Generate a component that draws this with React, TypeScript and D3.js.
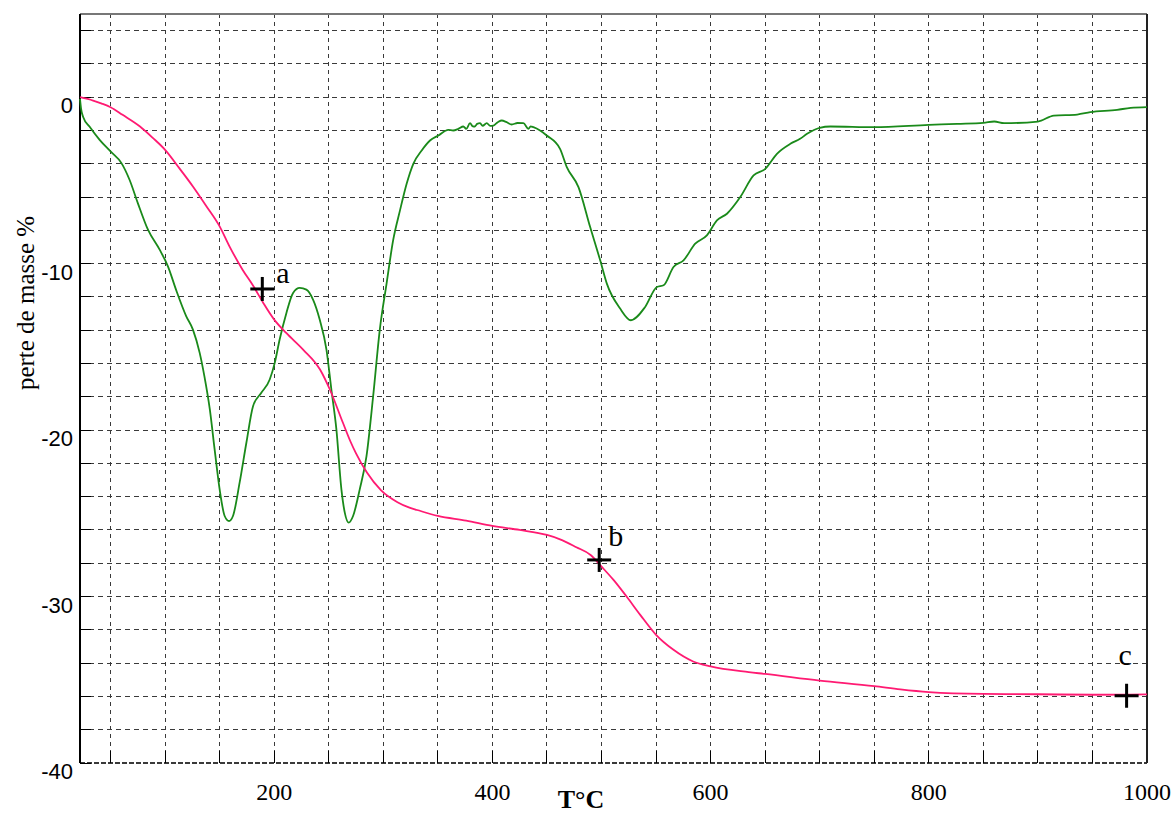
import React from "react";
import * as d3 from "d3";

// ---- data ----
const xDomain: [number, number] = [22, 1000];
const yDomain: [number, number] = [-40, 5];
const xLabelTicks = [200, 400, 600, 800, 1000];
const xGridTicks = [50, 100, 150, 200, 250, 300, 350, 400, 450, 500, 550, 600, 650, 700, 750, 800, 850, 900, 950];
const yLabelTicks = [0, -10, -20, -30, -40];
const yGridTicks = [4, 2, 0, -2, -4, -6, -8, -10, -12, -14, -16, -18, -20, -22, -24, -26, -28, -30, -32, -34, -36, -38];

// TG curve: mass loss %
const tgCurve: [number, number][] = [
  [22, 0], [34, -0.2], [42, -0.38], [50, -0.6], [61, -1.06], [77, -1.76], [89, -2.46], [100, -3.16],
  [113, -4.26], [125.5, -5.36], [138, -6.56], [150, -7.76], [159, -8.96], [171, -10.36],
  [181, -11.36], [190, -12.36], [200, -13.36], [211, -14.16], [226.5, -15.16], [242, -16.36],
  [251, -17.56], [263, -19.56], [270, -20.7], [275, -21.4], [285, -22.55], [298, -23.62],
  [313, -24.33], [324, -24.66], [331, -24.8], [350, -25.16], [376, -25.44], [400, -25.76],
  [425, -26.0], [450, -26.3], [462, -26.56], [477, -27.04], [490, -27.5], [500, -28.2],
  [511, -29.0], [523, -30.0], [535.5, -31.1], [550, -32.3], [566, -33.2], [584, -33.9],
  [600, -34.2], [635, -34.54], [650, -34.65], [700, -35.05], [750, -35.38], [774, -35.58],
  [800, -35.74], [850, -35.85], [900, -35.87], [950, -35.9], [1000, -35.88],
];

// DTG curve
const dtgCurve: [number, number][] = [
  [22, -0.1], [23, -0.7], [25, -1.2], [30.7, -1.76], [40, -2.56], [50, -3.26], [60, -3.96],
  [67.4, -4.96], [75, -6.36], [84.3, -7.96], [95, -9.16], [102.6, -10.16], [110, -11.56],
  [119.4, -13.16], [125.5, -13.96], [131.7, -15.36], [136, -16.76], [141, -18.76], [145.4, -21.16],
  [150, -23.56], [154.6, -25.16], [158.6, -25.46], [162.2, -25.16], [168.3, -23.16], [174.5, -20.76],
  [180.6, -18.56], [188.2, -17.76], [195.9, -16.96], [200.5, -15.96], [205, -14.56], [211.2, -12.96],
  [217.3, -11.76], [223.4, -11.46], [229.5, -11.56], [235.6, -12.16], [241.7, -13.36], [247.9, -15.16],
  [252.4, -17.56], [257, -19.96], [261.6, -23.56], [264.7, -24.96], [268.3, -25.56], [272.3, -25.16],
  [278.4, -23.56], [284.6, -21.56], [290.7, -17.96], [296.8, -13.96], [303, -11.2], [309, -8.6],
  [315.3, -6.8], [321.4, -5.2], [327.5, -4.0], [335.2, -3.2], [342.8, -2.6], [350.5, -2.3],
  [359.6, -1.96], [364, -2.0], [368.8, -1.9], [373.4, -1.76], [376, -1.9], [379.5, -1.56],
  [382, -1.75], [384, -1.76], [386, -1.6], [388.7, -1.56], [391, -1.72], [394.8, -1.56],
  [398, -1.72], [400.9, -1.7], [405, -1.5], [408.6, -1.4], [413, -1.5], [417.7, -1.64],
  [423, -1.55], [428.4, -1.56], [433, -1.9], [435, -1.75], [437.6, -1.8], [443.7, -2.0],
  [449.8, -2.3], [462, -3.1], [468.2, -4.2], [478.9, -5.4], [489.6, -7.8], [498.8, -9.8],
  [504.9, -11.2], [517.1, -12.7], [526.9, -13.4], [540, -12.6], [550.8, -11.4], [556.9, -11.3],
  [566, -10.2], [575.2, -9.8], [585.9, -8.8], [596.6, -8.3], [605.8, -7.4], [615, -7.0],
  [627.2, -6.0], [639.4, -4.7], [650.1, -4.3], [660.8, -3.4], [673.1, -2.8], [682, -2.5],
  [688.4, -2.2], [700, -1.84], [709.8, -1.76], [750, -1.8], [800, -1.66], [826, -1.6],
  [850, -1.54], [860, -1.46], [869, -1.56], [900, -1.46], [914.6, -1.1], [936, -1.04],
  [948, -0.9], [972.6, -0.76], [985, -0.64], [1000, -0.6],
];

const markerLabels = ["a", "b", "c"];
const markerTemps = [189.1, 497.9, 981.3];
const markerValues = [-11.52, -27.8, -35.96];

const xTitle = "T°C";
const yTitle = "perte de masse %";

// ---- layout / style ----
const W = 1175;
const H = 814;
const M = { left: 80, right: 1147, top: 14, bottom: 763 };
const labelOffsets: [number, number][] = [[14, -6], [9, -14], [-8, -31]];
const PINK = "#ff1a72";
const GREEN = "#1a8a1a";
const GRID = "#3a3a3a";

export default function App() {
  const x = d3.scaleLinear().domain(xDomain).range([M.left, M.right]);
  const y = d3.scaleLinear().domain(yDomain).range([M.bottom, M.top]);
  const line = d3
    .line<[number, number]>()
    .x((d) => x(d[0]))
    .y((d) => y(d[1]))
    .curve(d3.curveMonotoneX);

  return (
    <svg
      width={W}
      height={H}
      style={{ position: "absolute", left: 0, top: 0, background: "#fff" }}
    >
      <rect x={0} y={0} width={W} height={H} fill="#fff" />
      {/* horizontal grid */}
      {yGridTicks.map((t) => (
        <line
          key={"hy" + t}
          x1={M.left}
          x2={M.right}
          y1={y(t)}
          y2={y(t)}
          stroke={GRID}
          strokeWidth={1}
          strokeDasharray="5 4"
          shapeRendering="crispEdges"
        />
      ))}
      {/* vertical grid */}
      {xGridTicks.map((t) => (
        <line
          key={"vx" + t}
          x1={x(t)}
          x2={x(t)}
          y1={M.top}
          y2={M.bottom}
          stroke={GRID}
          strokeWidth={1}
          strokeDasharray="4 4"
          shapeRendering="crispEdges"
        />
      ))}
      {/* bottom dashed baseline */}
      <line
        x1={M.left}
        x2={M.right}
        y1={M.bottom}
        y2={M.bottom}
        stroke={GRID}
        strokeWidth={1.5}
        strokeDasharray="5 2"
        shapeRendering="crispEdges"
      />
      {/* ticks left */}
      {yGridTicks.concat([-40]).map((t) => (
        <line
          key={"ty" + t}
          x1={M.left}
          x2={M.left + 11}
          y1={y(t)}
          y2={y(t)}
          stroke="#000"
          strokeWidth={1}
          shapeRendering="crispEdges"
        />
      ))}
      {/* ticks bottom */}
      {xGridTicks.map((t) => (
        <line
          key={"tx" + t}
          x1={x(t)}
          x2={x(t)}
          y1={M.bottom}
          y2={M.bottom - 12}
          stroke="#000"
          strokeWidth={1}
          shapeRendering="crispEdges"
        />
      ))}
      {/* frame */}
      <line x1={M.left} x2={M.right} y1={M.top} y2={M.top} stroke="#777" strokeWidth={1.5} shapeRendering="crispEdges" />
      <line x1={M.left} x2={M.left} y1={M.top} y2={M.bottom} stroke="#000" strokeWidth={1.5} shapeRendering="crispEdges" />
      <line x1={M.right} x2={M.right} y1={M.top} y2={M.bottom} stroke="#222" strokeWidth={1.5} shapeRendering="crispEdges" />

      {/* curves */}
      <path d={line(dtgCurve) || ""} fill="none" stroke={GREEN} strokeWidth={1.8} />
      <path d={line(tgCurve) || ""} fill="none" stroke={PINK} strokeWidth={1.8} />

      {/* markers */}
      {markerLabels.map((lab, i) => {
        const cx = x(markerTemps[i]);
        const cy = y(markerValues[i]);
        return (
          <g key={lab}>
            <line x1={cx - 12} x2={cx + 12} y1={cy} y2={cy} stroke="#000" strokeWidth={3} />
            <line x1={cx} x2={cx} y1={cy - 12} y2={cy + 12} stroke="#000" strokeWidth={3} />
            <text
              x={cx + labelOffsets[i][0]}
              y={cy + labelOffsets[i][1]}
              fontFamily="'Liberation Serif', 'DejaVu Serif', serif"
              fontSize={30}
              fill="#000"
            >
              {lab}
            </text>
          </g>
        );
      })}

      {/* y tick labels */}
      {yLabelTicks.map((t) => (
        <text
          key={"ly" + t}
          x={73}
          y={y(t) + 16}
          textAnchor="end"
          fontFamily="'Liberation Sans', Arial, sans-serif"
          fontSize={22}
          fill="#000"
        >
          {t}
        </text>
      ))}
      {/* x tick labels */}
      {xLabelTicks.map((t) => (
        <text
          key={"lx" + t}
          x={x(t)}
          y={800}
          textAnchor="middle"
          fontFamily="'Liberation Serif', 'Times New Roman', serif"
          fontSize={24}
          fill="#000"
        >
          {t}
        </text>
      ))}
      {/* axis titles */}
      <text
        x={581}
        y={808}
        textAnchor="middle"
        fontFamily="'Liberation Serif', 'Times New Roman', serif"
        fontWeight="bold"
        fontSize={26}
        fill="#000"
      >
        {xTitle}
      </text>
      <text
        transform={`translate(34, 303) rotate(-90)`}
        textAnchor="middle"
        fontFamily="'Liberation Serif', 'Times New Roman', serif"
        fontSize={25}
        fill="#000"
      >
        {yTitle}
      </text>
    </svg>
  );
}
